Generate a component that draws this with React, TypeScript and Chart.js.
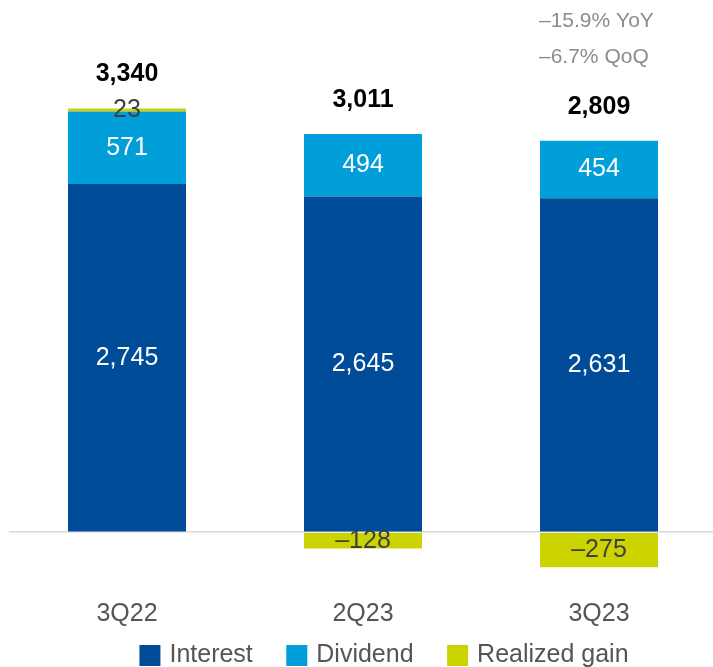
import React, { useEffect, useRef } from "react";
import { Chart, registerables } from "chart.js";

Chart.register(...registerables);

const categories = ["3Q22", "2Q23", "3Q23"];
const interest = [2745, 2645, 2631];
const dividend = [571, 494, 454];
const realizedGain = [23, -128, -275];
const totals = [3340, 3011, 2809];
const changeNotes = ["–15.9% YoY", "–6.7% QoQ"];
const seriesNames = ["Interest", "Dividend", "Realized gain"];
const seriesColors = ["#004C99", "#009FDA", "#CCD400"];

const FONT = '"Liberation Sans", Arial, Helvetica, sans-serif';

const fmt = (v: number) =>
  (v < 0 ? "–" : "") + Math.abs(v).toLocaleString("en-US");

const overlayPlugin = {
  id: "overlay",
  afterDraw(chart: any) {
    const ctx = chart.ctx as CanvasRenderingContext2D;
    const yScale = chart.scales.y;
    ctx.save();
    ctx.textAlign = "center";
    ctx.textBaseline = "middle";

    // values inside the segments
    chart.data.datasets.forEach((ds: any, di: number) => {
      const meta = chart.getDatasetMeta(di);
      meta.data.forEach((el: any, i: number) => {
        const v = ds.data[i] as number;
        const p = el.getCenterPoint();
        ctx.font = `25px ${FONT}`;
        ctx.fillStyle = di === 2 ? "#404040" : "#ffffff";
        ctx.fillText(fmt(v), p.x, p.y);
      });
    });

    // totals above the bars
    const series = [interest, dividend, realizedGain];
    const totalY: number[] = [];
    categories.forEach((_, i) => {
      const pos = series.reduce((s, arr) => s + Math.max(0, arr[i]), 0);
      const top = yScale.getPixelForValue(pos);
      const x = chart.getDatasetMeta(0).data[i].x;
      const ty = top - 34;
      totalY.push(ty);
      ctx.font = `bold 25px ${FONT}`;
      ctx.fillStyle = "#000000";
      ctx.fillText(fmt(totals[i]), x, ty);
    });

    // change notes above the last bar
    const lastEl = chart.getDatasetMeta(0).data[categories.length - 1];
    const left = lastEl.x - lastEl.width / 2 - 1;
    const ly = totalY[categories.length - 1];
    ctx.textAlign = "left";
    ctx.font = `21px ${FONT}`;
    ctx.fillStyle = "#8c8c8c";
    ctx.fillText(changeNotes[0], left, ly - 86);
    ctx.fillText(changeNotes[1], left, ly - 50);

    // legend
    ctx.font = `25px ${FONT}`;
    const box = 21;
    const gapText = 9;
    const gapItem = 33.5;
    const widths = seriesNames.map((n) => ctx.measureText(n).width);
    const total =
      widths.reduce((s, w) => s + box + gapText + w, 0) +
      gapItem * (seriesNames.length - 1);
    let x = 384 - total / 2;
    const cy = 655.5;
    seriesNames.forEach((n, i) => {
      ctx.fillStyle = seriesColors[i];
      ctx.fillRect(x, cy - box / 2, box, box);
      x += box + gapText;
      ctx.fillStyle = "#555555";
      ctx.textAlign = "left";
      ctx.fillText(n, x, cy);
      x += widths[i] + gapItem;
    });
    ctx.restore();
  },
};

export default function App() {
  const ref = useRef<HTMLCanvasElement | null>(null);

  useEffect(() => {
    if (!ref.current) return;
    const chart = new Chart(ref.current, {
      type: "bar",
      data: {
        labels: categories,
        datasets: [
          { label: seriesNames[0], data: interest, backgroundColor: seriesColors[0] },
          { label: seriesNames[1], data: dividend, backgroundColor: seriesColors[1] },
          { label: seriesNames[2], data: realizedGain, backgroundColor: seriesColors[2] },
        ],
      },
      options: {
        responsive: false,
        animation: false,
        layout: { padding: { left: 9, right: 3, top: 50, bottom: 22 } },
        datasets: { bar: { categoryPercentage: 1, barPercentage: 0.5 } } as any,
        plugins: {
          legend: { display: false },
          tooltip: { enabled: false },
        },
        scales: {
          x: {
            stacked: true,
            grid: { display: false, drawTicks: false },
            border: { display: false },
            ticks: {
              color: "#555555",
              font: { size: 25, family: FONT },
              padding: 16,
            },
          },
          y: {
            stacked: true,
            min: -400,
            max: 3800,
            z: 1,
            ticks: { display: false, stepSize: 200 },
            border: { display: false },
            grid: {
              drawTicks: false,
              lineWidth: 1.5,
              color: (c: any) =>
                c.tick && c.tick.value === 0 ? "#d9d9d9" : "rgba(0,0,0,0)",
            },
          },
        },
      },
      plugins: [overlayPlugin],
    });
    return () => chart.destroy();
  }, []);

  return (
    <div
      style={{
        position: "absolute",
        left: 0,
        top: 0,
        width: 713,
        height: 667,
        overflow: "hidden",
        background: "#ffffff",
      }}
    >
      <canvas ref={ref} width={720} height={667} style={{ display: "block" }} />
    </div>
  );
}
